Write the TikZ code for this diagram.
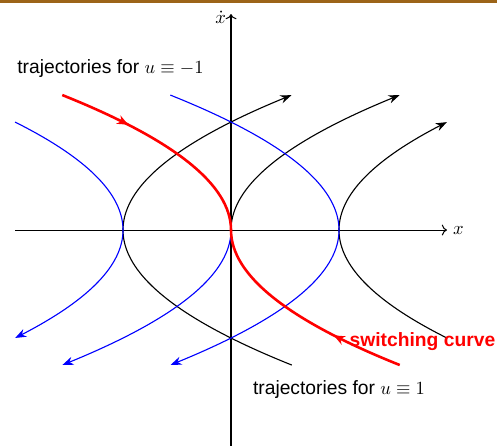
\documentclass[tikz,border=0pt]{standalone}
\usepackage{fontspec}
\setmainfont{Liberation Sans}
\usetikzlibrary{arrows.meta,decorations.markings}
\definecolor{framebrown}{RGB}{156,100,24}
\definecolor{trajblue}{RGB}{0,0,255}
\definecolor{switchred}{RGB}{255,0,0}
\begin{document}
\begin{tikzpicture}[x=58.3pt,y=58.3pt,font=\fontsize{10.4}{12}\selectfont,
  axis/.style={line width=0.55pt,->},
  trajtip/.style={-{Stealth[length=6pt,width=4.5pt]}},
  blacktraj/.style={black,line width=0.6pt,trajtip},
  bluetraj/.style={trajblue,line width=0.6pt,trajtip},
  switchcurve/.style={switchred,line width=1.4pt,postaction={decorate},
    decoration={markings,mark=at position 0.32 with {\arrow{Stealth[length=6pt,width=5pt]}}}},
  lbl/.style={inner sep=0pt}]
\useasboundingbox (-2.139,-1.991) rectangle (2.463,2.130);
\fill[framebrown] (-2.139,2.102) rectangle (2.463,2.140);
% axes
\coordinate (xl) at (-2,0);
\coordinate (xr) at (2,0);
\coordinate (yb) at (0,-2.05);
\coordinate (yt) at (0,2);
\draw[axis] (xl) -- (xr) node[right,inner sep=3pt] (xlab) {$x$};
\draw[axis] (yb) -- (yt) node[left,inner sep=2.5pt,yshift=-1.5pt] (ylab) {$\dot x$};
% u = +1 trajectories (black)
\draw[blacktraj] plot[domain=-1.25:1.25,samples=80,smooth] ({-1+\x*\x},\x);
\draw[blacktraj] plot[domain=0:1.25,samples=50,smooth] ({\x*\x},\x);
\draw[blacktraj] plot[domain=-1:1,samples=70,smooth] ({1+\x*\x},\x);
% u = -1 trajectories (blue)
\draw[bluetraj] plot[domain=1:-1,samples=70,smooth] ({-1-\x*\x},\x);
\draw[bluetraj] plot[domain=0:-1.25,samples=50,smooth] ({-\x*\x},\x);
\draw[bluetraj] plot[domain=1.25:-1.25,samples=80,smooth] ({1-\x*\x},\x);
% switching curve (red)
\coordinate (o) at (0,0);
\coordinate (su) at (-1.5625,1.25);
\coordinate (sl) at (1.5625,-1.25);
\draw[switchcurve] (su) .. controls (-0.5208,0.8333) and (0,0.4167) .. (o);
\draw[switchcurve] (sl) .. controls (0.5208,-0.8333) and (0,-0.4167) .. (o);
% labels
\node[lbl] (lminus) at (-1.116,1.50) {trajectories for $u\equiv-1$};
\node[lbl] (lplus) at (1.0,-1.48) {trajectories for $u\equiv1$};
\node[lbl,anchor=west,text=switchred,font=\fontsize{10.4}{12}\selectfont\bfseries] (lswitch) at (1.095,-1.03) {switching curve};
\end{tikzpicture}
\end{document}
